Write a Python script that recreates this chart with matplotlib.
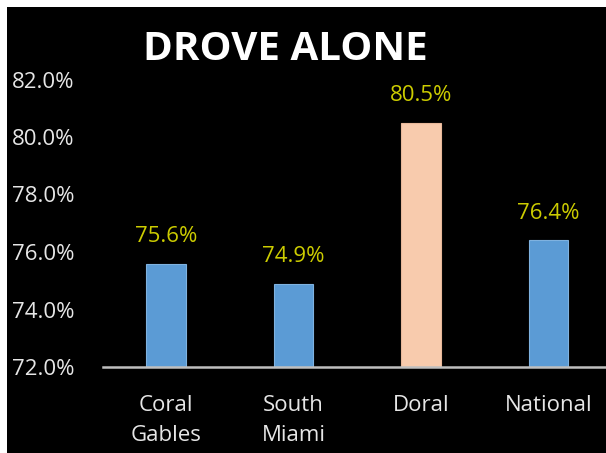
import matplotlib
matplotlib.use("Agg")
import matplotlib.pyplot as plt
from matplotlib.patches import Rectangle

# Share of workers who drove alone
places = ["Coral\nGables", "South\nMiami", "Doral", "National"]
drove_alone = [75.6, 74.9, 80.5, 76.4]
bar_colors = ["#5B9BD5", "#5B9BD5", "#F8CBAD", "#5B9BD5"]
yticks = [72, 74, 76, 78, 80, 82]

plt.rcParams["font.family"] = ["Open Sans", "DejaVu Sans"]

W, H = 606, 453
fig = plt.figure(figsize=(W / 100, H / 100), dpi=100)
fig.patch.set_facecolor("white")
# black panel, thin white margin on left and top
fig.add_artist(Rectangle((7 / W, 0), 1, 1 - 7 / H, transform=fig.transFigure,
                         facecolor="black", edgecolor="none", zorder=0))

ax = fig.add_axes([102.5 / W, (H - 367) / H, (W - 102.5) / W, (367 - 79.5) / H])
ax.set_facecolor("black")
ax.patch.set_alpha(0)

x = range(len(places))
ax.bar(x, [v - 72 for v in drove_alone], bottom=72, width=0.31,
       color=bar_colors, edgecolor=["#7FB2E0", "#7FB2E0", "#E8B89A", "#7FB2E0"],
       linewidth=0.8, zorder=2)

for i, v in enumerate(drove_alone):
    ax.annotate(f"{v:.1f}%", (i, v), xytext=(0, 12), textcoords="offset points",
                ha="center", va="bottom", color="#CCCC00", fontsize=16)

ax.set_xlim(-0.5, 3.45)
ax.set_ylim(72, 82)
ax.set_yticks(yticks)
ax.set_yticklabels([f"{t:.1f}%" for t in yticks])
ax.set_xticks(list(x))
ax.set_xticklabels(places, linespacing=1.55)
ax.tick_params(axis="y", length=0, pad=20, labelcolor="#E6E6E6", labelsize=16)
ax.tick_params(axis="x", length=0, pad=20, labelcolor="#E6E6E6", labelsize=16)

for s in ("left", "right", "top"):
    ax.spines[s].set_visible(False)
ax.spines["bottom"].set_color("#BFBFBF")
ax.spines["bottom"].set_linewidth(1.8)

fig.text(285 / W, 1 - 49 / H, "DROVE ALONE", ha="center", va="center",
         color="white", fontsize=29, fontweight="bold")

fig.savefig("out.png", dpi=100, facecolor=fig.get_facecolor())
